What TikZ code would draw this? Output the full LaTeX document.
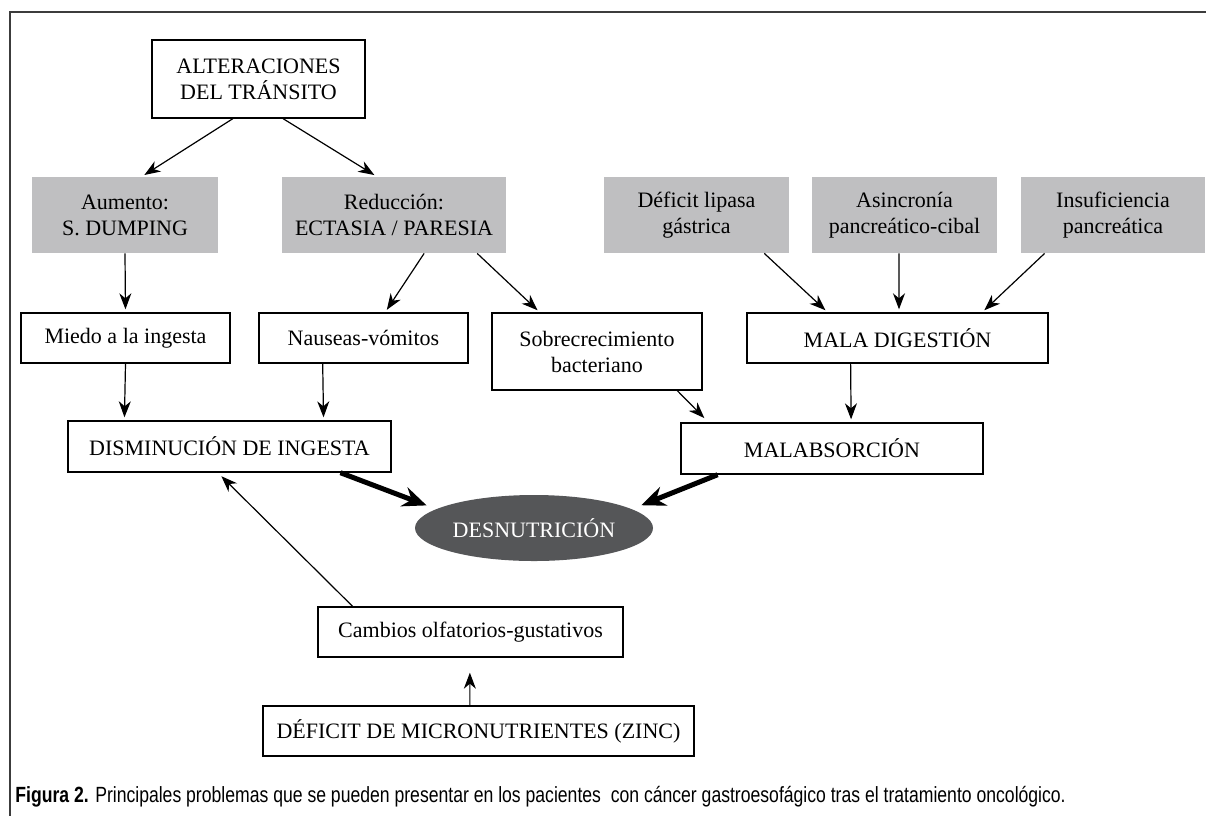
\documentclass[tikz,border=0pt]{standalone}
\usepackage{fontspec}
\setmainfont{Liberation Serif}
\newfontfamily\capfont[FakeStretch=0.8]{Liberation Sans}
\usetikzlibrary{shapes.geometric,arrows.meta,calc}
\definecolor{boxgray}{RGB}{191,191,193}
\definecolor{ovalgray}{RGB}{85,86,88}
\definecolor{framegray}{RGB}{60,60,60}

\begin{document}
\begin{tikzpicture}[x=0.5pt, y=-0.5pt, font=\fontsize{11}{13}\selectfont,
   whitebox/.style={draw=black, line width=0.7pt, inner sep=0pt, align=center},
   greybox/.style={fill=boxgray, inner sep=0pt, align=center, minimum height=38pt},
   link/.style={-{Stealth[length=8pt,width=6pt,inset=2.5pt]}, line width=0.6pt, shorten >=1.5pt},
   heavy/.style={-{Stealth[length=12pt,width=10pt,inset=4pt]}, line width=2.5pt, shorten >=5pt}]
      \useasboundingbox (0,0) rectangle (1206,816);
      \draw[framegray, line width=0.75pt] (1206,12) -- (10,12) -- (10,816);

      \node[whitebox, name=alt, minimum width=106.5pt, minimum height=39pt] at (258.5,79) {ALTERACIONES\\DEL TRÁNSITO};

      \node[greybox, name=aum, minimum width=93pt] at (125,215) {Aumento:\\S. DUMPING};
      \node[greybox, name=red, minimum width=112pt] at (394,215) {Reducción:\\ECTASIA / PARESIA};
      \node[greybox, name=lip, minimum width=92.5pt] at (696.5,215) {Déficit lipasa\\gástrica};
      \node[greybox, name=asi, minimum width=92.5pt] at (904.5,215) {Asincronía\\pancreático-cibal};
      \node[greybox, name=ins, minimum width=92pt] at (1113,215) {Insuficiencia\\pancreática};

      \node[whitebox, name=mie, minimum width=104.5pt, minimum height=25pt] at (125.5,338) {Miedo a la ingesta};
      \node[whitebox, name=nau, minimum width=104.5pt, minimum height=25pt] at (363.5,338) {Nauseas-vómitos};
      \node[whitebox, name=sob, minimum width=105pt, minimum height=38.5pt] at (597,351.5) {Sobrecrecimiento\\bacteriano};
      \node[whitebox, name=dig, minimum width=150.5pt, minimum height=25pt] at (897.5,338) {MALA DIGESTIÓN};

      \node[whitebox, name=dis, minimum width=161.5pt, minimum height=25.5pt] at (229.5,446.5) {DISMINUCIÓN DE INGESTA};
      \node[whitebox, name=mal, minimum width=151pt, minimum height=25.5pt] at (832,448.5) {MALABSORCIÓN};

      \node[ellipse, fill=ovalgray, text=white, inner sep=0pt, name=des,
            minimum width=119pt, minimum height=33pt] at (534,528) {DESNUTRICIÓN};

      \node[whitebox, name=cam, minimum width=152.5pt, minimum height=25pt] at (470.5,632) {Cambios olfatorios-gustativos};
      \node[whitebox, name=def, minimum width=215.5pt, minimum height=25pt] at (478.5,731) {DÉFICIT DE MICRONUTRIENTES (ZINC)};

      \node[anchor=west, inner sep=0pt, name=cap, font=\capfont\fontsize{11}{13}\selectfont] at (15,797)
         {\textbf{Figura 2.} Principales problemas que se pueden presentar en los pacientes\ \ con cáncer gastroesofágico tras el tratamiento oncológico.};

      \path[link]
         ($(alt.south west)!.38!(alt.south east)$) edge ($(aum.north west)!.59!(aum.north east)$)
         ($(alt.south west)!.615!(alt.south east)$) edge ($(red.north west)!.424!(red.north east)$)
         (aum.south) edge (mie.north)
         ($(red.south west)!.634!(red.south east)$) edge ($(nau.north west)!.603!(nau.north east)$)
         ($(red.south west)!.87!(red.south east)$) edge ($(sob.north west)!.229!(sob.north east)$)
         ($(lip.south west)!.865!(lip.south east)$) edge ($(dig.north west)!.269!(dig.north east)$)
         ($(asi.south west)!.47!(asi.south east)$) edge ($(dig.north west)!.505!(dig.north east)$)
         ($(ins.south west)!.13!(ins.south east)$) edge ($(dig.north west)!.78!(dig.north east)$)
         (mie.south) edge ($(dis.north west)!.176!(dis.north east)$)
         ($(nau.south west)!.306!(nau.south east)$) edge ($(dis.north west)!.79!(dis.north east)$)
         ($(sob.south west)!.88!(sob.south east)$) edge[shorten >=3pt] ($(mal.north west)!.093!(mal.north east)$)
         ($(dig.south west)!.345!(dig.south east)$) edge ($(mal.north west)!.563!(mal.north east)$)
         ($(cam.north west)!.115!(cam.north east)$) edge[shorten >=2.5pt] ($(dis.south west)!.464!(dis.south east)$)
         ($(def.north west)!.48!(def.north east)$) edge[shorten >=7.5pt] ($(cam.south west)!.498!(cam.south east)$);

      \path[heavy]
         ($(dis.south west)!.842!(dis.south east)$) edge (des.169)
         ($(mal.south west)!.123!(mal.south east)$) edge (des.11);
   \end{tikzpicture}
\end{document}
